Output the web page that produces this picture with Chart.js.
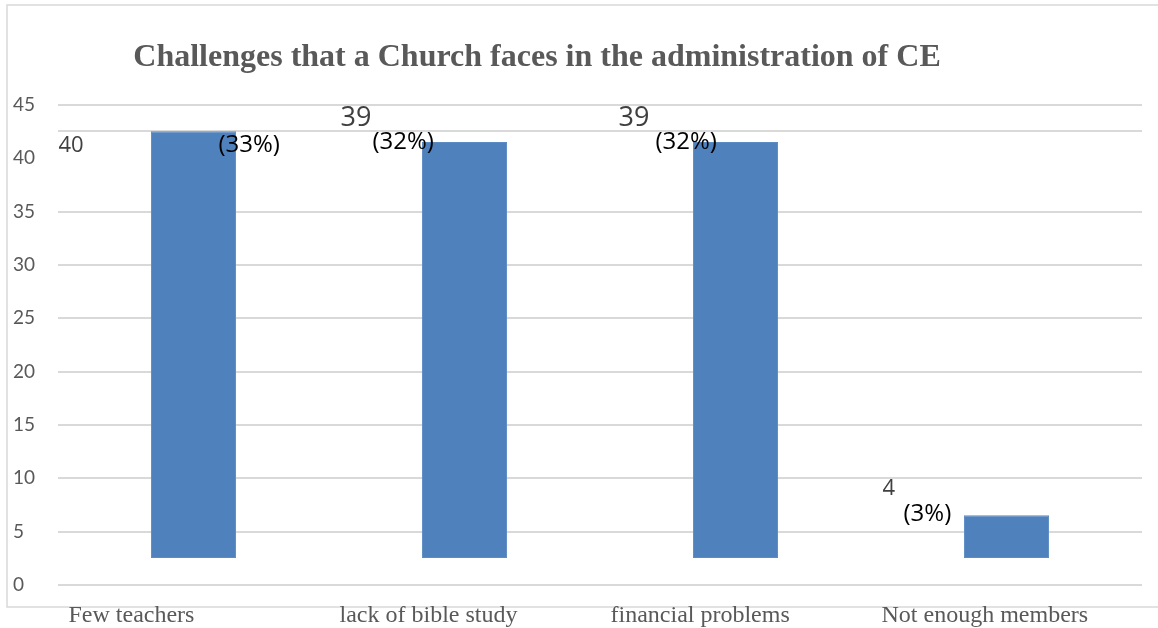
<!DOCTYPE html>
<html>
<head>
<meta charset="utf-8">
<script src="https://cdn.jsdelivr.net/npm/chart.js@4.4.1/dist/chart.umd.min.js"></script>
<style>
html,body{margin:0;padding:0;background:#fff;}
canvas{display:block;}
</style>
</head>
<body>
<canvas id="c" width="1158" height="628"></canvas>
<script>
// ---- data ----
const titleText = 'Challenges that a Church faces in the administration of CE';
const categories = ['Few teachers', 'lack of bible study', 'financial problems', 'Not enough members'];
const counts = [40, 39, 39, 4];
const percentLabels = ['(33%)', '(32%)', '(32%)', '(3%)'];
const barBase = 2.53;              // bars in the picture start above the 0 line
const yTickValues = [0, 5, 10, 15, 20, 25, 30, 35, 40, 42.53, 45];
const yTickLabels = ['0', '5', '10', '15', '20', '25', '30', '35', '40', '', '45'];
const hiddenGridValue = 40;        // no gridline drawn at 40 in the picture

// ---- label placement (pixels relative to bar centre / bar top) ----
const countLabelPos = [[-135, 14], [-124, -24], [-117, -24], [-124, -27]];
const countLabelSize = [22, 27, 27, 22];
const pctLabelPos = [[25, 14], [-92, 0], [-80, 0], [-103, -1]];

const GRID = '#d9d9d9';
const TEXT = '#595959';

const frame = {
  id: 'frame',
  beforeDraw(chart) {
    const c = chart.ctx;
    c.save();
    c.fillStyle = '#fff';
    c.fillRect(0, 0, chart.width, chart.height);
    c.strokeStyle = GRID;
    c.lineWidth = 1.5;
    c.strokeRect(7, 5, chart.width + 10, 602);
    c.fillStyle = TEXT;
    c.font = 'bold 32px "Liberation Serif", "Times New Roman", serif';
    c.textAlign = 'center';
    c.textBaseline = 'middle';
    c.fillText(titleText, 537, 58);
    c.restore();
  }
};

const dataLabels = {
  id: 'dataLabels',
  afterDraw(chart) {
    const meta = chart.getDatasetMeta(0);
    const c = chart.ctx;
    c.save();
    c.textAlign = 'left';
    c.textBaseline = 'middle';
    meta.data.forEach((bar, i) => {
      c.fillStyle = '#404040';
      c.font = countLabelSize[i] + 'px "Open Sans", sans-serif';
      c.fillText(String(counts[i]), bar.x + countLabelPos[i][0], bar.y + countLabelPos[i][1]);
      c.fillStyle = '#000';
      c.font = '24px "Open Sans", sans-serif';
      c.fillText(percentLabels[i], bar.x + pctLabelPos[i][0], bar.y + pctLabelPos[i][1]);
    });
    c.restore();
  }
};

new Chart(document.getElementById('c'), {
  type: 'bar',
  data: {
    labels: categories,
    datasets: [{
      data: counts.map(v => [barBase, barBase + v]),
      backgroundColor: '#4f81bd',
      borderColor: '#5b8cc4',
      borderWidth: 1,
      borderSkipped: false,
      categoryPercentage: 1,
      barPercentage: 0.314
    }]
  },
  options: {
    responsive: false,
    animation: false,
    devicePixelRatio: 1,
    layout: { padding: { left: 13, right: 16, top: 105, bottom: 0 } },
    plugins: { legend: { display: false }, title: { display: false }, tooltip: { enabled: false } },
    scales: {
      x: {
        grid: { display: false, drawTicks: false },
        border: { display: false },
        ticks: {
          align: 'start',
          labelOffset: -125,
          padding: 16,
          maxRotation: 0,
          autoSkip: false,
          color: TEXT,
          font: { family: '"Liberation Serif", "Times New Roman", serif', size: 24 }
        },
        afterFit(s) { s.height = 43; s.paddingLeft = 0; s.paddingRight = 0; }
      },
      y: {
        min: 0,
        max: 45,
        z: 1,
        afterBuildTicks(s) { s.ticks = yTickValues.map(v => ({ value: v })); },
        afterFit(s) { s.width = 45; },
        grid: {
          drawTicks: false,
          lineWidth: 2,
          color: ctx => (ctx.tick && ctx.tick.value === hiddenGridValue) ? 'rgba(0,0,0,0)' : GRID
        },
        border: { display: false },
        ticks: {
          crossAlign: 'far',
          padding: 0,
          color: TEXT,
          font: { family: 'Lato, "Open Sans", sans-serif', size: 19 },
          callback: (v, i) => yTickLabels[i]
        }
      }
    }
  },
  plugins: [frame, dataLabels]
});
</script>
</body>
</html>
